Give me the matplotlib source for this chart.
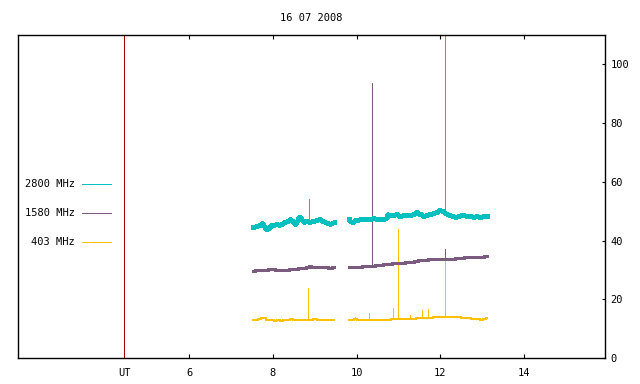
import matplotlib
matplotlib.use('Agg')
import matplotlib.pyplot as plt
import numpy as np

# Radio flux, 16 07 2008 (time in UT hours)
title = '16 07 2008'
labels = ['2800 MHz', '1580 MHz', '403 MHz']
colors = ['#00c0c0', '#7b5c80', '#ffc000']
ut_mark = 4.44

# 2800 MHz
c_t1 = [7.53, 7.61, 7.69, 7.73, 7.77, 7.85, 7.91, 7.97, 8.03, 8.09, 8.15, 8.21, 8.29, 8.35, 8.41, 8.47,
        8.53, 8.59, 8.63, 8.69, 8.73, 8.81, 8.87, 8.93, 8.97, 9.05, 9.13, 9.19, 9.25, 9.31, 9.37, 9.42, 9.46]
c_v1 = [44.7, 44.9, 45.2, 46.0, 45.0, 43.9, 44.4, 45.2, 45.4, 45.8, 45.3, 45.5, 46.4, 46.6, 47.2, 46.6,
        45.8, 46.8, 48.1, 47.0, 46.2, 46.7, 46.3, 46.8, 46.6, 46.9, 47.2, 46.6, 46.4, 46.0, 45.8, 46.1, 46.2]
c_t2 = [9.81, 9.85, 9.89, 9.97, 10.03, 10.09, 10.17, 10.25, 10.33, 10.41, 10.49, 10.57, 10.65, 10.71, 10.73,
        10.80, 10.88, 10.96, 11.04, 11.12, 11.20, 11.28, 11.36, 11.44, 11.52, 11.60, 11.68, 11.76, 11.84,
        11.92, 12.00, 12.06, 12.11, 12.16, 12.24, 12.30, 12.36, 12.44, 12.50, 12.56, 12.64, 12.72, 12.80,
        12.88, 12.96, 13.04, 13.12]
c_v2 = [47.3, 46.6, 46.4, 46.9, 47.0, 47.2, 47.4, 47.3, 47.5, 47.6, 47.4, 47.5, 47.3, 47.6, 49.2,
        48.8, 48.6, 48.9, 48.5, 48.6, 48.8, 48.6, 49.1, 49.8, 48.9, 48.4, 48.8, 49.2, 49.4,
        49.8, 50.3, 49.9, 49.5, 48.9, 48.7, 48.3, 48.1, 48.4, 48.7, 48.6, 48.2, 48.4, 48.1,
        48.3, 48.0, 48.3, 48.4]

# 1580 MHz
p_t1 = [7.53, 7.61, 7.69, 7.77, 7.85, 7.93, 8.01, 8.09, 8.17, 8.25, 8.33, 8.45, 8.55, 8.65, 8.75, 8.85,
        8.89, 8.93, 9.01, 9.13, 9.25, 9.37, 9.46]
p_v1 = [29.7, 29.8, 29.9, 29.9, 30.1, 30.3, 30.2, 30.0, 29.9, 30.0, 30.1, 30.3, 30.4, 30.6, 30.7, 30.9,
        31.3, 30.9, 31.1, 31.1, 31.0, 30.5, 31.1]
p_t2 = [9.81, 9.89, 10.01, 10.09, 10.17, 10.25, 10.33, 10.41, 10.49, 10.57, 10.69, 10.80, 10.88, 11.00,
        11.12, 11.22, 11.32, 11.42, 11.52, 11.64, 11.76, 11.88, 12.00, 12.08, 12.16, 12.25, 12.32, 12.40,
        12.52, 12.64, 12.76, 12.88, 13.00, 13.12]
p_v2 = [31.1, 31.1, 31.1, 31.1, 31.2, 31.4, 31.4, 31.5, 31.6, 31.7, 31.9, 32.0, 32.2, 32.3,
        32.4, 32.6, 32.8, 33.0, 33.3, 33.5, 33.7, 33.7, 33.7, 33.8, 33.6, 33.6, 33.7, 33.9,
        34.2, 34.5, 34.5, 34.5, 34.4, 34.6]

# 403 MHz
y_t1 = [7.53, 7.61, 7.69, 7.73, 7.81, 7.85, 7.93, 8.01, 8.05, 8.13, 8.21, 8.29, 8.37, 8.45, 8.53, 8.65,
        8.73, 8.81, 8.93, 9.01, 9.09, 9.21, 9.33, 9.46]
y_v1 = [13.1, 12.9, 13.3, 13.6, 13.5, 13.0, 12.9, 12.8, 12.6, 12.9, 12.6, 12.8, 12.9, 13.2, 13.0, 12.9,
        13.1, 12.9, 12.9, 13.3, 13.1, 12.9, 12.9, 12.9]
y_t2 = [9.81, 9.89, 9.97, 10.05, 10.13, 10.21, 10.29, 10.41, 10.53, 10.65, 10.77, 10.88, 11.00, 11.12,
        11.24, 11.36, 11.48, 11.56, 11.64, 11.76, 11.88, 12.00, 12.12, 12.24, 12.36, 12.44, 12.56, 12.68,
        12.80, 12.92, 13.00, 13.06, 13.12]
y_v2 = [12.9, 13.0, 13.2, 13.0, 13.1, 13.0, 13.1, 13.0, 13.0, 13.1, 13.1, 13.2, 13.2, 13.2,
        13.3, 13.4, 13.5, 13.5, 13.6, 13.7, 13.8, 13.8, 13.9, 13.9, 14.0, 13.9, 13.7, 13.6,
        13.4, 13.3, 13.1, 13.4, 13.5]

# spikes: time, base, peak
c_spk_t = [8.87, 12.11]
c_spk_lo = [46.3, 49.5]
c_spk_hi = [54.0, 130.0]
p_spk_t = [10.38, 12.11]
p_spk_lo = [31.5, 33.7]
p_spk_hi = [93.6, 37.0]
y_spk_t = [8.85, 9.97, 10.29, 10.88, 11.00, 11.28, 11.56, 11.70, 12.11]
y_spk_lo = [13.0, 13.2, 13.1, 13.2, 13.2, 13.3, 13.5, 13.6, 13.9]
y_spk_hi = [23.7, 14.0, 15.2, 16.9, 43.8, 14.6, 16.3, 16.7, 33.9]

font = 'DejaVu Sans Mono'
fs = 7.5
plt.rcParams['font.family'] = font

fig = plt.figure(figsize=(6.4, 3.84), dpi=100)
ax = fig.add_axes([18 / 640, 1 - 358 / 384, 587 / 640, 323 / 384])

thin = 0.72  # one pixel

ax.axvline(ut_mark, color='#a00000', lw=thin, zorder=1, antialiased=False)

series = [
    (y_t1, y_v1, y_t2, y_v2, y_spk_t, y_spk_lo, y_spk_hi, colors[2], 1.2),
    (p_t1, p_v1, p_t2, p_v2, p_spk_t, p_spk_lo, p_spk_hi, colors[1], 1.8),
    (c_t1, c_v1, c_t2, c_v2, c_spk_t, c_spk_lo, c_spk_hi, colors[0], 2.2),
]
for t1, v1, t2, v2, st, slo, shi, col, lw in series:
    for t, v in ((t1, v1), (t2, v2)):
        ax.plot(t, v, color=col, lw=lw, drawstyle='steps-mid', antialiased=False, zorder=2)
    ax.vlines(st, slo, shi, color=col, lw=thin, antialiased=False, zorder=2)

# legend on the left
leg_y = [0.538, 0.448, 0.358]
for lab, col, ly in zip(labels, colors, leg_y):
    ax.text(0.097, ly, lab, transform=ax.transAxes, ha='right', va='center',
            fontsize=fs, family=font)
    ax.plot([0.1085, 0.158], [ly, ly], transform=ax.transAxes, color=col, lw=thin,
            antialiased=False)

ax.set_xlim(1.895, 15.95)
ax.set_ylim(0, 110)

ax.set_xticks([ut_mark, 6, 8, 10, 12, 14])
ax.set_xticklabels(['UT', '6', '8', '10', '12', '14'])
ax.set_yticks([0, 20, 40, 60, 80, 100])
ax.tick_params(axis='x', direction='in', top=True, bottom=True, length=3.2, width=0.8,
               pad=7, labelsize=fs)
ax.tick_params(axis='y', direction='in', left=False, right=True, labelleft=False,
               labelright=True, length=2.5, width=0.8, pad=4, labelsize=fs)
# the UT tick is just the red line
ax.xaxis.get_major_ticks()[0].tick1line.set_visible(False)
ax.xaxis.get_major_ticks()[0].tick2line.set_visible(False)

for sp in ax.spines.values():
    sp.set_linewidth(1.0)

ax.set_title(title, fontsize=fs, family=font, pad=10)

fig.savefig('out.png', dpi=100)
